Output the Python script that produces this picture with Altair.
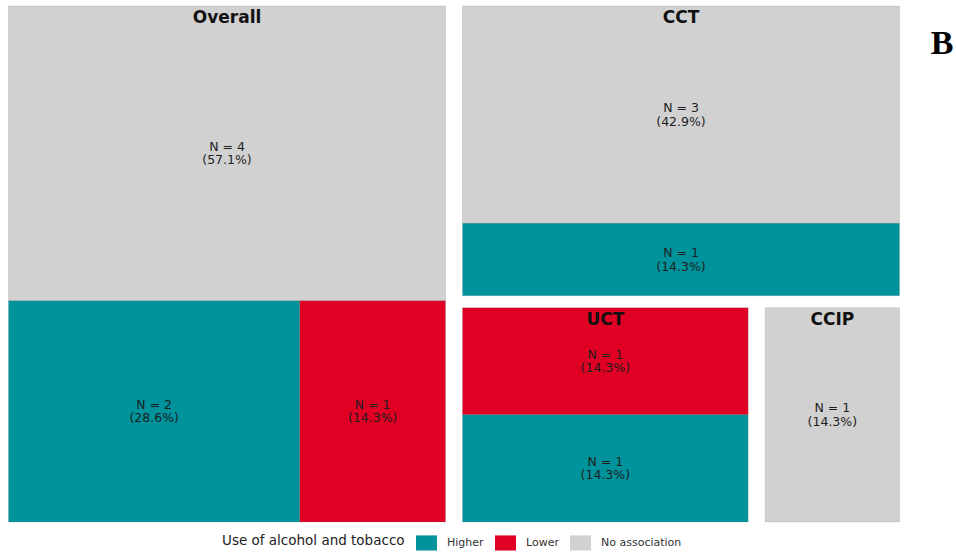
import altair as alt
import pandas as pd

# ---- data ----
groups = ["Overall", "Overall", "Overall", "CCT", "CCT", "UCT", "UCT", "CCIP"]
categories = ["No association", "Higher", "Lower", "No association", "Higher",
              "Lower", "Higher", "No association"]
counts = [4, 2, 1, 3, 1, 1, 1, 1]

group_order = ["Overall", "CCT", "UCT", "CCIP"]
legend_order = ["Higher", "Lower", "No association"]
legend_colors = ["#00939C", "#DF0024", "#D1D1D1"]
legend_title = "Use of alcohol and tobacco"
panel_tag = "B"

W, H = 908, 528          # plot area in pixels
GAP_X, GAP_Y = 17, 12    # white gaps between groups (pixels)


def worst(row, length):
    s = sum(row)
    return max(max(length * length * r / (s * s), (s * s) / (length * length * r)) for r in row)


def squarify(values, x, y, w, h):
    total = float(sum(values))
    areas = [v / total * w * h for v in values]
    rects = []
    while areas:
        length = min(w, h)
        row = [areas[0]]
        i = 1
        while i < len(areas) and worst(row + [areas[i]], length) <= worst(row, length):
            row.append(areas[i])
            i += 1
        s = sum(row)
        if w >= h:
            cw = s / h
            yy = y
            for a in row:
                rh = a / cw
                rects.append((x, yy, cw, rh))
                yy += rh
            x += cw
            w -= cw
        else:
            rh = s / w
            xx = x
            for a in row:
                rw = a / rh
                rects.append((xx, y, rw, rh))
                xx += rw
            y += rh
            h -= rh
        areas = areas[i:]
    return rects


group_totals = [sum(c for g, c in zip(groups, counts) if g == name) for name in group_order]
overall_total = group_totals[0]
group_rects = squarify(group_totals, 0.0, 0.0, 1.0, 1.0)

ix = GAP_X / 2.0 / W
iy = GAP_Y / 2.0 / H

cell_rows = []
group_rows = []
for name, (gx, gy, gw, gh) in zip(group_order, group_rects):
    gx0, gy0, gw0, gh0 = gx + ix, gy + iy, gw - 2 * ix, gh - 2 * iy
    group_rows.append({"group": name, "gxc": gx0 + gw0 / 2, "gtop": gy0})
    idx = [k for k, g in enumerate(groups) if g == name]
    subs = squarify([counts[k] for k in idx], gx0, gy0, gw0, gh0)
    for k, (sx, sy, sw, sh) in zip(idx, subs):
        pct = 100.0 * counts[k] / overall_total
        cell_rows.append({
            "group": name,
            "category": categories[k],
            "x0": sx, "x1": sx + sw, "y0": sy, "y1": sy + sh,
            "xc": sx + sw / 2, "yc": sy + sh / 2,
            "label": "N = %d\n(%.1f%%)" % (counts[k], pct),
        })

cells = pd.DataFrame(cell_rows)
glabels = pd.DataFrame(group_rows)

xs = alt.Scale(domain=[0, 1], nice=False, zero=False)
ys = alt.Scale(domain=[0, 1], nice=False, zero=False, reverse=True)

rects = alt.Chart(cells).mark_rect(
    stroke="#7a7a7a", strokeWidth=0.5, strokeOpacity=0.4
).encode(
    x=alt.X("x0:Q", scale=xs, axis=alt.Axis(
        title=None, labels=False, ticks=False, grid=False,
        domain=True, domainColor="#e3e3e3", domainWidth=2)),
    x2="x1:Q",
    y=alt.Y("y0:Q", scale=ys, axis=None),
    y2="y1:Q",
    color=alt.Color(
        "category:N",
        scale=alt.Scale(domain=legend_order, range=legend_colors),
        legend=alt.Legend(
            title=legend_title,
            orient="none", legendX=222, legendY=532,
            direction="horizontal",
            titleOrient="left", titleAnchor="middle", titleBaseline="middle",
            titleFont="DejaVu Sans", titleFontSize=13.5, titleFontWeight="normal",
            titleColor="#222222", titlePadding=11, titleLimit=400,
            labelFont="DejaVu Sans", labelFontSize=11, labelColor="#333333",
            labelOffset=10, columnPadding=11, padding=0, labelLimit=300,
            symbolType="M-1,-0.72H1V0.72H-1Z", symbolSize=441,
            symbolStrokeWidth=0, symbolOpacity=1,
        ),
    ),
)

values = alt.Chart(cells).mark_text(
    font="DejaVu Sans", fontSize=12.5, color="#1e1e1e",
    lineBreak="\n", lineHeight=13.5, baseline="middle", align="center", dy=-6.5,
).encode(
    x=alt.X("xc:Q", scale=xs, axis=None),
    y=alt.Y("yc:Q", scale=ys, axis=None),
    text="label:N",
)

titles = alt.Chart(glabels).mark_text(
    font="DejaVu Sans", fontSize=17, fontWeight="bold", color="#111111",
    baseline="alphabetic", align="center", dy=17,
).encode(
    x=alt.X("gxc:Q", scale=xs, axis=None),
    y=alt.Y("gtop:Q", scale=ys, axis=None),
    text="group:N",
)

tag = alt.Chart(pd.DataFrame({"t": [panel_tag]})).mark_text(
    font="Liberation Serif", fontSize=34, fontWeight="bold", color="#000000",
    align="center", baseline="alphabetic",
).encode(
    x=alt.value(942), y=alt.value(54), text="t:N",
)

chart = alt.layer(rects, values, titles, tag).properties(
    width=W, height=H,
    padding={"left": 0, "top": 0, "right": 48, "bottom": 25},
    autosize="none",
    background="white",
).configure_view(stroke=None)

chart.save("out.html", embed_options={"renderer": "svg", "actions": False})
